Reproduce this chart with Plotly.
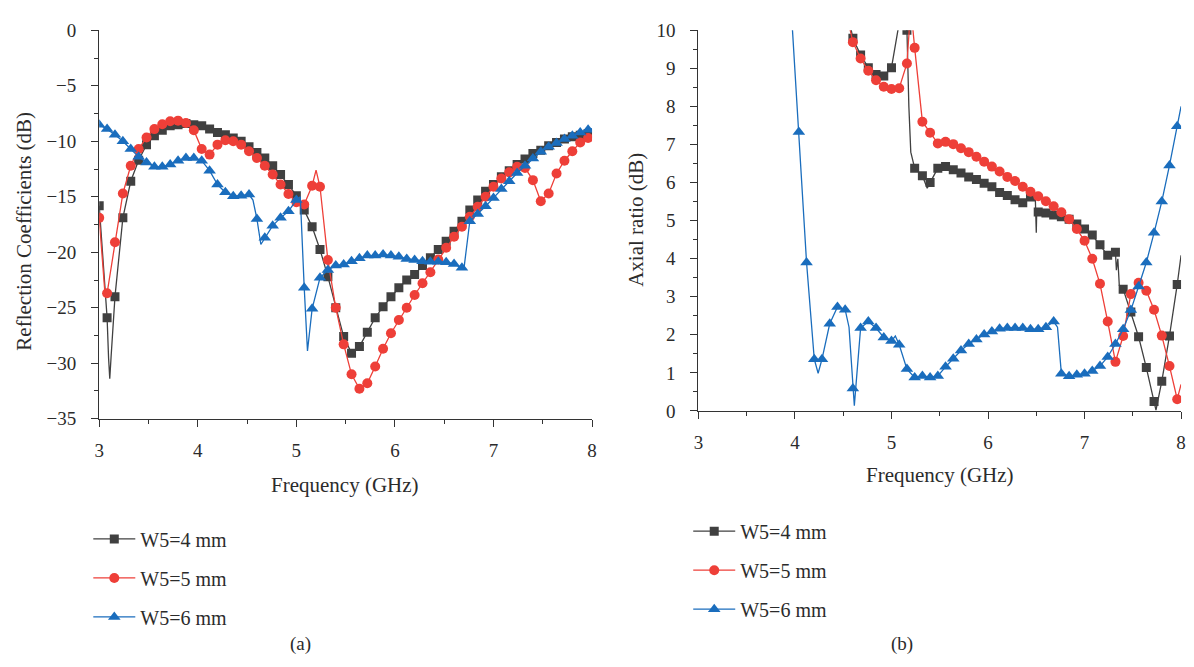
import plotly.graph_objects as go

# ---------------- data ----------------
freq = [3.00, 3.08, 3.16, 3.24, 3.32, 3.40, 3.48, 3.56, 3.64, 3.72, 3.80, 3.88, 3.96,
        4.04, 4.12, 4.20, 4.28, 4.36, 4.44, 4.52, 4.60, 4.68, 4.76, 4.84, 4.92,
        5.00, 5.08, 5.16, 5.24, 5.32, 5.40, 5.48, 5.56, 5.64, 5.72, 5.80, 5.88, 5.96,
        6.04, 6.12, 6.20, 6.28, 6.36, 6.44, 6.52, 6.60, 6.68, 6.76, 6.84, 6.92,
        7.00, 7.08, 7.16, 7.24, 7.32, 7.40, 7.48, 7.56, 7.64, 7.72, 7.80, 7.88, 7.96]

# (a) reflection coefficients (dB), sampled at freq
s11_w4 = [-15.8, -25.9, -24.0, -16.9, -13.6, -11.7, -10.3, -9.5, -9.0, -8.6, -8.5, -8.4, -8.5,
          -8.6, -8.9, -9.2, -9.4, -9.7, -10.0, -10.5, -11.0, -11.5, -12.2, -13.0, -13.9,
          -14.9, -16.2, -17.7, -19.75, -22.2, -25.0, -27.6, -29.1, -28.5, -27.2, -25.9, -24.9, -24.0,
          -23.2, -22.5, -22.0, -21.2, -20.5, -19.75, -19.0, -18.1, -17.2, -16.2, -15.3, -14.5,
          -13.9, -13.2, -12.65, -12.1, -11.6, -11.1, -10.8, -10.4, -10.1, -9.8, -9.6, -9.45, -9.3]
s11_w5 = [-16.9, -23.7, -19.1, -14.7, -12.2, -10.7, -9.66, -8.9, -8.46, -8.2, -8.14, -8.35, -9.0,
          -10.7, -11.2, -10.3, -9.9, -10.0, -10.3, -10.9, -11.5, -12.2, -13.0, -13.9, -14.75,
          -15.5, -15.7, -14.0, -14.1, -20.7, -25.0, -28.3, -31.0, -32.3, -31.8, -30.3, -28.7, -27.3,
          -26.1, -25.0, -23.85, -22.8, -21.8, -20.65, -19.6, -18.6, -17.7, -16.8, -15.9, -15.0,
          -14.1, -13.35, -12.8, -12.3, -12.4, -13.5, -15.4, -14.7, -12.9, -11.75, -10.9, -10.1, -9.7]
s11_w6 = [-8.5, -8.9, -9.4, -10.0, -10.7, -11.4, -11.9, -12.3, -12.3, -12.1, -11.75, -11.5, -11.5,
          -11.75, -12.65, -13.9, -14.6, -14.95, -14.9, -14.8, -17.0, -18.7, -17.6, -16.9, -16.3,
          -15.3, -23.2, -25.1, -22.3, -21.6, -21.2, -21.1, -20.8, -20.55, -20.3, -20.3, -20.2, -20.3,
          -20.4, -20.6, -20.7, -20.8, -20.85, -20.85, -20.9, -21.05, -21.4, -17.2, -16.55, -15.85,
          -15.1, -14.3, -13.6, -12.85, -12.2, -11.55, -10.95, -10.5, -10.15, -9.8, -9.5, -9.2, -8.95]
# extra curve points between samples (fine structure of the traces)
s11_w4_fx = [3.095, 3.107, 3.12, 8.00]
s11_w4_fy = [-29.5, -31.4, -29.5, -9.2]
s11_w5_fx = [3.06, 5.20, 8.00]
s11_w5_fy = [-23.9, -12.6, -9.5]
s11_w6_fx = [4.56, 4.64, 5.04, 5.113, 6.70, 8.00]
s11_w6_fy = [-15.3, -19.3, -15.0, -28.9, -21.5, -8.85]

# (b) axial ratio (dB)
ar_freq_w4 = freq[19:]
ar_w4 = [10.8, 9.79, 9.35, 9.02, 8.84, 8.8,
         9.02, 10.2, 10.0, 6.38, 6.18, 6.0, 6.38, 6.42, 6.34, 6.25, 6.15, 6.08, 5.98,
         5.89, 5.74, 5.66, 5.55, 5.47, 5.62, 5.23, 5.2, 5.15, 5.1, 5.04, 4.91,
         4.78, 4.62, 4.37, 4.09, 4.17, 3.2, 2.6, 1.95, 1.14, 0.25, 0.78, 1.97, 3.32]
ar_freq_w5 = freq[19:]
ar_w5 = [10.6, 9.69, 9.26, 8.94, 8.69, 8.52,
         8.46, 8.48, 9.13, 9.54, 7.6, 7.31, 7.03, 7.07, 7.01, 6.9, 6.8, 6.68, 6.55,
         6.42, 6.29, 6.15, 6.04, 5.89, 5.76, 5.64, 5.51, 5.38, 5.22, 5.04, 4.78,
         4.47, 4.0, 3.34, 2.35, 1.29, 1.97, 3.07, 3.37, 3.16, 2.66, 1.98, 1.18, 0.31]
ar_freq_w6 = freq[12:]
ar_w6 = [10.6,
         7.33, 3.9, 1.36, 1.36, 2.29, 2.73, 2.66, 0.59, 2.18, 2.35, 2.18, 1.93,
         1.84, 1.74, 1.10, 0.88, 0.92, 0.88, 0.92, 1.16, 1.37, 1.59, 1.76, 1.88, 2.01,
         2.09, 2.16, 2.18, 2.18, 2.18, 2.15, 2.15, 2.2, 2.35, 0.98, 0.91, 0.95,
         0.98, 1.05, 1.18, 1.42, 1.76, 2.15, 2.65, 3.27, 3.9, 4.68, 5.5, 6.45, 7.48]
ar_w4_fx = [5.18, 5.20, 5.37, 6.49, 6.50, 6.505, 7.33, 7.345, 7.36, 7.74, 8.00]
ar_w4_fy = [8.0, 6.8, 5.85, 5.6, 4.68, 5.3, 3.7, 4.0, 3.3, 0.02, 4.09]
ar_w5_fx = [5.20, 8.00]
ar_w5_fy = [10.6, 0.7]
ar_w6_fx = [4.24, 4.56, 4.615, 5.04, 6.72, 8.00]
ar_w6_fy = [0.99, 2.2, 0.14, 1.97, 2.2, 8.0]

names = ["W5=4 mm", "W5=5 mm", "W5=6 mm"]
colors = ["#404040", "#ee3f38", "#1a6dbd"]
symbols = ["square", "circle", "triangle-up"]
msizes = [9, 10, 11]

FONT = "Liberation Serif"
TXT = "#2b2b2b"


def merged(xs, ys, fx, fy):
    pts = sorted(list(zip(xs, ys)) + list(zip(fx, fy)))
    return [p[0] for p in pts], [p[1] for p in pts]


fig = go.Figure()

panels = [
    ("x", "y", "legend", [(freq, s11_w4, s11_w4_fx, s11_w4_fy),
                          (freq, s11_w5, s11_w5_fx, s11_w5_fy),
                          (freq, s11_w6, s11_w6_fx, s11_w6_fy)]),
    ("x2", "y2", "legend2", [(ar_freq_w4, ar_w4, ar_w4_fx, ar_w4_fy),
                             (ar_freq_w5, ar_w5, ar_w5_fx, ar_w5_fy),
                             (ar_freq_w6, ar_w6, ar_w6_fx, ar_w6_fy)]),
]

for xa, ya, lg, series in panels:
    for i, (xs, ys, fx, fy) in enumerate(series):
        lx, ly = merged(xs, ys, fx, fy)
        fig.add_trace(go.Scatter(x=lx, y=ly, mode="lines", xaxis=xa, yaxis=ya,
                                 line=dict(color=colors[i], width=1.3),
                                 showlegend=False, hoverinfo="skip"))
        fig.add_trace(go.Scatter(x=xs, y=ys, mode="markers", xaxis=xa, yaxis=ya,
                                 marker=dict(symbol=symbols[i], size=msizes[i], color=colors[i],
                                             line=dict(width=0)),
                                 showlegend=False))
    for i in range(3):
        fig.add_trace(go.Scatter(x=[None], y=[None], mode="lines+markers", xaxis=xa, yaxis=ya,
                                 name=names[i], legend=lg, legendgroup=f"{lg}{i}",
                                 line=dict(color=colors[i], width=1.3),
                                 marker=dict(symbol=symbols[i], size=msizes[i], color=colors[i])))

W, H = 1194, 667


def px_x(p):
    return p / W


def px_y(p):
    return 1 - p / H


axis_common = dict(showline=True, linecolor="#333333", linewidth=1.2, ticks="outside",
                   ticklen=7, tickwidth=1.2, tickcolor="#333333", showgrid=False, zeroline=False,
                   tickfont=dict(family=FONT, size=19, color=TXT))


def label(text, x, y, size, angle=0):
    return dict(text=text, x=px_x(x), y=px_y(y), xref="paper", yref="paper",
                xanchor="center", yanchor="middle", showarrow=False, textangle=angle,
                font=dict(family=FONT, size=size, color=TXT))


fig.update_layout(
    width=W, height=H, margin=dict(l=0, r=0, t=0, b=0),
    paper_bgcolor="white", plot_bgcolor="white",
    font=dict(family=FONT, size=19, color=TXT),
    xaxis=dict(domain=[px_x(95), px_x(592)], anchor="y", range=[3, 8], dtick=1,
               ticklabelstandoff=7,
               minor=dict(ticks="outside", ticklen=4, dtick=0.5, tickcolor="#333333"),
               **axis_common),
    yaxis=dict(domain=[px_y(422), px_y(21)], anchor="x", range=[-35, 0], dtick=5,
               ticklabelstandoff=11,
               minor=dict(ticks="outside", ticklen=4, dtick=2.5, tickcolor="#333333"),
               **axis_common),
    xaxis2=dict(domain=[px_x(699.3), px_x(1186)], anchor="y2", range=[3, 8], dtick=1,
                ticklabelstandoff=7,
                minor=dict(ticks="outside", ticklen=4, dtick=0.5, tickcolor="#333333"),
                **axis_common),
    yaxis2=dict(domain=[px_y(414), px_y(21)], anchor="x2", range=[0, 10], dtick=1,
                ticklabelstandoff=11,
                minor=dict(ticks="outside", ticklen=4, dtick=0.5, tickcolor="#333333"),
                **axis_common),
    legend=dict(x=px_x(84), y=px_y(526), xanchor="left", yanchor="top",
                font=dict(family=FONT, size=20, color=TXT), tracegroupgap=10, itemwidth=42,
                bgcolor="rgba(0,0,0,0)"),
    legend2=dict(x=px_x(689), y=px_y(518), xanchor="left", yanchor="top",
                 font=dict(family=FONT, size=20, color=TXT), tracegroupgap=10, itemwidth=42,
                 bgcolor="rgba(0,0,0,0)"),
    annotations=[
        label("Frequency (GHz)", 343, 490, 21),
        label("Frequency (GHz)", 943, 480, 21),
        label("Reflection Coefficients (dB)", 19, 228, 21, -90),
        label("Axial ratio (dB)", 636, 217, 21, -90),
        label("(a)", 298, 655, 19),
        label("(b)", 905, 655, 19),
    ],
)

fig.write_html("out.html")
